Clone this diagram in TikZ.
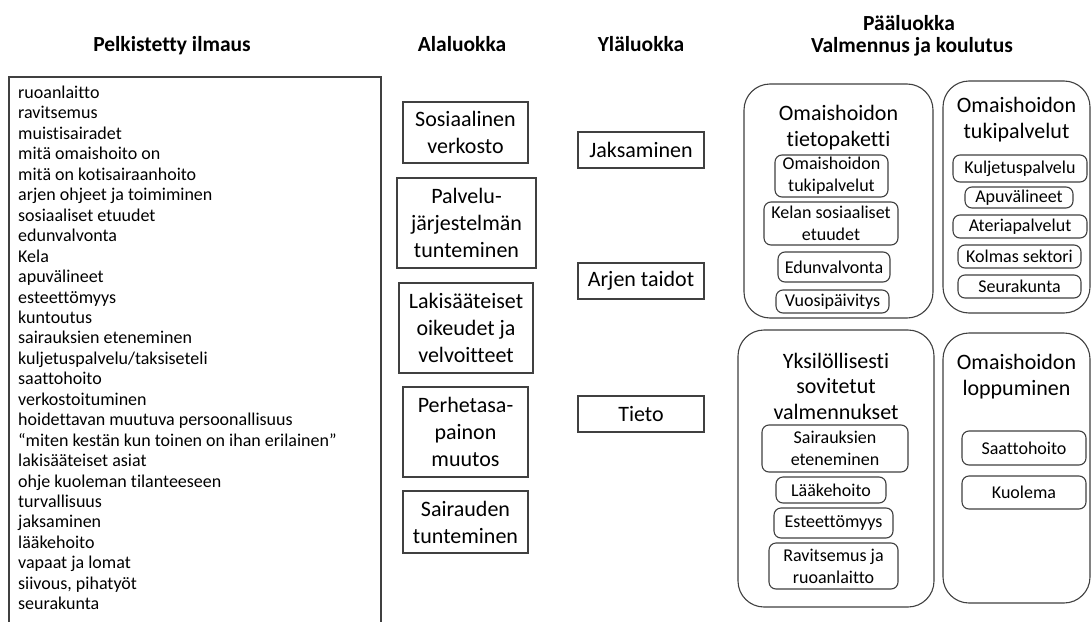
\documentclass[tikz,border=0pt]{standalone}
\usepackage{fontspec}
\setmainfont{Carlito}[Ligatures=NoCommon]
\begin{document}
\begin{tikzpicture}[x=1pt,y=-1pt,
  frame/.style={draw=black!75, line width=1.1pt},
  sqbox/.style={frame, inner sep=0pt, align=center, font=\fontsize{22}{27}\selectfont},
  rbig/.style={frame, rounded corners=26pt, inner sep=0pt},
  rsmall/.style={frame, rounded corners=7pt, inner sep=0pt, align=center, font=\fontsize{18}{22}\selectfont},
  title/.style={align=center, inner sep=0pt, font=\fontsize{22}{25.5}\selectfont},
  head/.style={anchor=base, inner sep=0pt, font=\bfseries\fontsize{21.5}{24}\selectfont},
  item/.style={anchor=base west, inner sep=0pt, font=\fontsize{18}{20}\selectfont}]
\useasboundingbox (0,0) rectangle (1092,621);
\fill[white] (0,0) rectangle (1092,621);

% headers
\node[head] (h1) at (172,51) {Pelkistetty ilmaus};
\node[head] (h2) at (462,51) {Alaluokka};
\node[head] (h3) at (641,51) {Yläluokka};
\node[head] (h4) at (909,30) {Pääluokka};
\node[head] (h5) at (912,52) {Valmennus ja koulutus};

% left list
\draw[frame] (9,625) -- (9,77) -- (381,77) -- (381,625);
\foreach \t [count=\i from 0] in {ruoanlaitto, ravitsemus, muistisairadet, mitä omaishoito on,
  mitä on kotisairaanhoito, arjen ohjeet ja toimiminen, sosiaaliset etuudet, edunvalvonta,
  Kela, apuvälineet, esteettömyys, kuntoutus, sairauksien eteneminen,
  kuljetuspalvelu/taksiseteli, saattohoito, verkostoituminen,
  hoidettavan muutuva persoonallisuus, “miten kestän kun toinen on ihan erilainen”,
  lakisääteiset asiat, ohje kuoleman tilanteeseen, turvallisuus, jaksaminen,
  lääkehoito, vapaat ja lomat, {siivous, pihatyöt}, seurakunta}
  \node[item] (l\i) at (18, 98.5+20.45*\i) {\t};

% Alaluokka
\node[sqbox, minimum width=125, minimum height=61] (a1) at (465.5,132.5) {Sosiaalinen\\verkosto};
\node[sqbox, minimum width=139, minimum height=90] (a2) at (466.5,223) {Palvelu-\\järjestelmän\\tunteminen};
\node[sqbox, minimum width=134, minimum height=90] (a3) at (466,328) {Lakisääteiset\\oikeudet ja\\velvoitteet};
\node[sqbox, minimum width=125, minimum height=90] (a4) at (465.5,432) {Perhetasa-\\painon\\muutos};
\node[sqbox, minimum width=125, minimum height=62] (a5) at (465.5,522) {Sairauden\\tunteminen};

% Yläluokka
\node[sqbox, minimum width=126, minimum height=36] (y1) at (641,150) {Jaksaminen};
\node[sqbox, minimum width=126, minimum height=36] (y2) at (641,281) {Arjen taidot};
\node[sqbox, minimum width=126, minimum height=36] (y3) at (641,414) {Tieto};

% Pääluokka groups
\node[rbig, minimum width=189, minimum height=234] (g1) at (838.5,201) {};
\node[title] (g1t) at (838.5,127.5) {Omaishoidon\\tietopaketti};
\node[rsmall, minimum width=113, minimum height=42] (g1a) at (831.5,176) {Omaishoidon\\tukipalvelut};
\node[rsmall, minimum width=134, minimum height=43] (g1b) at (831,223.5) {Kelan sosiaaliset\\etuudet};
\node[rsmall, minimum width=112, minimum height=30] (g1c) at (834,267) {Edunvalvonta};
\node[rsmall, minimum width=113, minimum height=23] (g1d) at (832.5,301.5) {Vuosipäivitys};

\node[rbig, minimum width=147, minimum height=232] (g2) at (1016.5,197) {};
\node[title] (g2t) at (1016.5,119.5) {Omaishoidon\\tukipalvelut};
\node[rsmall, minimum width=134, minimum height=27] (g2a) at (1020,168.5) {Kuljetuspalvelu};
\node[rsmall, minimum width=108, minimum height=21] (g2b) at (1019,197.5) {Apuvälineet};
\node[rsmall, minimum width=134, minimum height=23] (g2c) at (1020,226.5) {Ateriapalvelut};
\node[rsmall, minimum width=123, minimum height=23] (g2d) at (1019.5,256.5) {Kolmas sektori};
\node[rsmall, minimum width=123, minimum height=23] (g2e) at (1019.5,286.5) {Seurakunta};

\node[rbig, minimum width=196, minimum height=277] (g3) at (836,468.5) {};
\node[title] (g3t) at (836,386) {Yksilöllisesti\\sovitetut\\valmennukset};
\node[rsmall, minimum width=146, minimum height=47] (g3a) at (835,448.5) {Sairauksien\\eteneminen};
\node[rsmall, minimum width=110, minimum height=26] (g3b) at (831,490) {Lääkehoito};
\node[rsmall, minimum width=119, minimum height=30] (g3c) at (833.5,523) {Esteettömyys};
\node[rsmall, minimum width=129, minimum height=46] (g3d) at (833.5,566) {Ravitsemus ja\\ruoanlaitto};

\node[rbig, minimum width=147, minimum height=270] (g4) at (1016.5,468) {};
\node[title] (g4t) at (1016.5,376.5) {Omaishoidon\\loppuminen};
\node[rsmall, minimum width=124, minimum height=34] (g4a) at (1024,448) {Saattohoito};
\node[rsmall, minimum width=124, minimum height=33] (g4b) at (1024,492.5) {Kuolema};
\end{tikzpicture}
\end{document}
